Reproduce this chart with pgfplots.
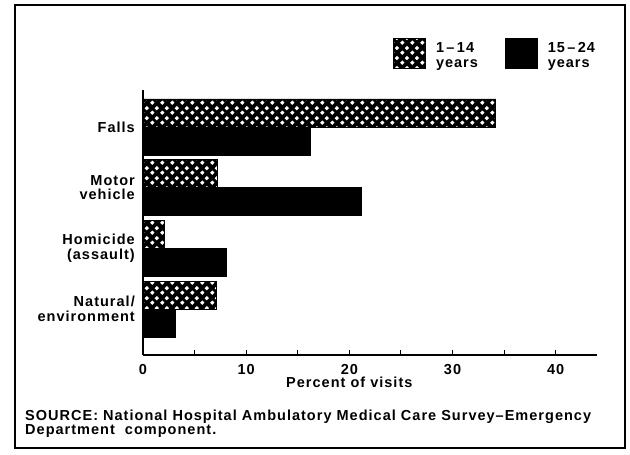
\documentclass[border=0pt]{standalone}
\usepackage{fontspec}
\setmainfont{Liberation Sans}[LetterSpace=7]
\usepackage{pgfplots}
\pgfplotsset{compat=1.18}
\usetikzlibrary{patterns}

\pgfdeclarepatternformonly{wdiam}{\pgfpoint{0bp}{0bp}}{\pgfpoint{10bp}{10bp}}{\pgfpoint{10bp}{10bp}}{%
  \pgfpathmoveto{\pgfpoint{2.5bp}{0.1bp}}%
  \pgfpathlineto{\pgfpoint{4.9bp}{2.5bp}}%
  \pgfpathlineto{\pgfpoint{2.5bp}{4.9bp}}%
  \pgfpathlineto{\pgfpoint{0.1bp}{2.5bp}}%
  \pgfpathclose
  \pgfpathmoveto{\pgfpoint{7.5bp}{5.1bp}}%
  \pgfpathlineto{\pgfpoint{9.9bp}{7.5bp}}%
  \pgfpathlineto{\pgfpoint{7.5bp}{9.9bp}}%
  \pgfpathlineto{\pgfpoint{5.1bp}{7.5bp}}%
  \pgfpathclose
  \pgfusepath{fill}%
}

\pgfplotsset{sqlegend/.style={legend image code/.code={\draw[##1] (0bp,-13bp) rectangle (32bp,17bp);}}}

\newcommand\ff{\fontsize{14.5bp}{14.5bp}\selectfont\bfseries}

\begin{document}
\begin{tikzpicture}[x=1bp,y=1bp]
\path[use as bounding box] (0,0) rectangle (630,455);
\draw[line width=1.8bp] (15,7) rectangle (625,450);
\begin{axis}[
  at={(143bp,100bp)}, anchor=south west,
  scale only axis, width=454bp, height=265bp,
  xmin=0, xmax=44, ymin=-0.758, ymax=3.61,
  axis x line=bottom, axis y line=left,
  axis line style={-, line width=1.2bp},
  xtick={0,10,20,30,40}, minor xtick={5,15,25,35},
  tick align=inside, major tick length=5bp, minor tick length=5bp,
  tick style={line width=1bp, black},
  ytick={0,1,2,3},
  yticklabels={{Natural/\\environment},{Homicide\\(assault)},{Motor\\vehicle},{Falls}},
  ytick style={draw=none},
  yticklabel style={align=right, inner sep=0pt, xshift=-3bp, font=\ff},
  xticklabel style={inner sep=0pt, yshift=-9bp, font=\ff},
  /pgf/number format/assume math mode=true,
  xlabel={Percent of visits},
  xlabel style={at={(axis description cs:0.4545,0)}, anchor=north, inner sep=0pt, yshift=-22bp, font=\ff},
  xbar, bar width=28bp,
  legend columns=2,
  legend cell align=left,
  legend style={draw=none, fill=none, at={(0.5507,1.196)}, anchor=north west,
    inner sep=0pt, font=\ff, cells={align=left}, column sep=8bp,
    /tikz/every even column/.append style={column sep=25bp}},
]
\addplot[fill=black, draw=black, line width=0.8bp,
  postaction={pattern=wdiam, pattern color=white},
  bar shift=14bp, sqlegend]
  coordinates {(34.2,3) (7.2,2) (2.1,1) (7.1,0)};
\addlegendentry{1\,--\,14\\years}
\addplot[fill=black, draw=black, line width=0.8bp,
  bar shift=-14bp, sqlegend]
  coordinates {(16.2,3) (21.2,2) (8.1,1) (3.1,0)};
\addlegendentry{15\,--\,24\\years}
\end{axis}
\node[anchor=base west, align=left, inner sep=0pt, font=\fontsize{14.5bp}{14.5bp}\selectfont\bfseries] at (25,20)
  {SOURCE: National Hospital Ambulatory Medical Care Survey--Emergency\\Department\ \ component.};
\end{tikzpicture}
\end{document}
